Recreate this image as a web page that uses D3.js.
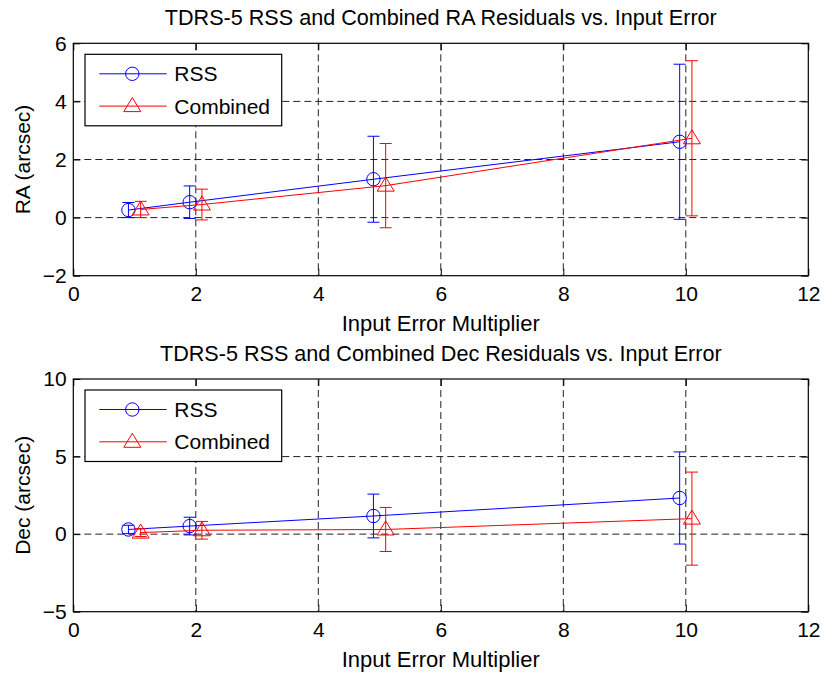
<!DOCTYPE html>
<html>
<head>
<meta charset="utf-8">
<script src="https://cdn.jsdelivr.net/npm/d3@7"></script>
<style>
  html, body { margin: 0; padding: 0; background: #fff; }
  svg text { font-family: "Liberation Sans", Arial, sans-serif; fill: #000; }
</style>
</head>
<body>
<svg id="chart" width="822" height="673"></svg>
<script>
// Input error multipliers (series are offset slightly so the error bars don't overlap)
const rssX = [0.9, 1.9, 4.9, 9.9];
const combinedX = [1.1, 2.1, 5.1, 10.1];

// Right ascension residuals (arcsec) with 1-sigma spreads
const raRss = [0.26, 0.53, 1.32, 2.61];
const raRssErr = [0.26, 0.56, 1.48, 2.67];
const raCombined = [0.28, 0.45, 1.10, 2.73];
const raCombinedErr = [0.28, 0.53, 1.45, 2.67];

// Declination residuals (arcsec) with 1-sigma spreads
const decRss = [0.30, 0.52, 1.17, 2.33];
const decRssErr = [0.27, 0.57, 1.41, 2.97];
const decCombined = [0.10, 0.25, 0.30, 1.00];
const decCombinedErr = [0.25, 0.57, 1.42, 3.00];

const seriesNames = ["RSS", "Combined"];
const seriesColors = ["#0000ff", "#ff0000"];
const seriesMarkers = ["circle", "triangle"];

const xDomain = [0, 12];
const xTicks = [0, 2, 4, 6, 8, 10, 12];
const raDomain = [-2, 6];
const raTicks = [-2, 0, 2, 4, 6];
const decDomain = [-5, 10];
const decTicks = [-5, 0, 5, 10];

const titles = [
  "TDRS-5 RSS and Combined RA Residuals vs. Input Error",
  "TDRS-5 RSS and Combined Dec Residuals vs. Input Error"
];
const yLabels = ["RA (arcsec)", "Dec (arcsec)"];
const xLabel = "Input Error Multiplier";

const svg = d3.select("#chart");
const FS = 21;
const left = 73.3, right = 808.3;
const tickLen = 7;

function markerPath(kind) {
  if (kind === "circle") {
    const p = d3.path();
    p.arc(0, 0, 6.7, 0, 2 * Math.PI);
    p.closePath();
    return p.toString();
  }
  return "M0,-8.5L8.5,5.5L-8.5,5.5Z";
}

function drawPanel(cfg) {
  const x = d3.scaleLinear().domain(xDomain).range([left, right]);
  const y = d3.scaleLinear().domain(cfg.yDomain).range([cfg.bottom, cfg.top]);
  const g = svg.append("g");

  // dashed grid
  const grid = g.append("g").attr("stroke", "#222").attr("stroke-width", 1).attr("stroke-dasharray", "7,4");
  grid.selectAll("line.vx").data(xTicks.filter(t => t > xDomain[0] && t < xDomain[1])).join("line")
    .attr("x1", d => x(d)).attr("x2", d => x(d)).attr("y1", cfg.top).attr("y2", cfg.bottom);
  grid.selectAll("line.hy").data(cfg.yTicks.filter(t => t > cfg.yDomain[0] && t < cfg.yDomain[1])).join("line")
    .attr("x1", left).attr("x2", right).attr("y1", d => y(d)).attr("y2", d => y(d));

  // axes with inward ticks on all four sides
  const axB = d3.axisBottom(x).tickValues(xTicks).tickSize(-tickLen).tickPadding(10.5).tickFormat(d3.format("d"));
  const axT = d3.axisTop(x).tickValues(xTicks).tickSize(-tickLen).tickFormat("");
  const axL = d3.axisLeft(y).tickValues(cfg.yTicks).tickSize(-tickLen).tickPadding(6.6).tickFormat(d3.format("d"));
  const axR = d3.axisRight(y).tickValues(cfg.yTicks).tickSize(-tickLen).tickFormat("");
  const axes = [
    [axB, `translate(0,${cfg.bottom})`],
    [axT, `translate(0,${cfg.top})`],
    [axL, `translate(${left},0)`],
    [axR, `translate(${right},0)`]
  ];
  axes.forEach(([ax, tr]) => {
    const a = g.append("g").attr("transform", tr).call(ax);
    a.select(".domain").remove();
    a.selectAll(".tick line").attr("stroke", "#000").attr("stroke-width", 1);
    a.selectAll(".tick text").attr("font-size", FS).attr("font-family", "Liberation Sans, Arial, sans-serif");
  });

  // series: error bars, connecting line, markers
  cfg.series.forEach((s, i) => {
    const color = seriesColors[i];
    const pts = s.x.map((xv, k) => ({ x: xv, y: s.y[k], e: s.err[k] }));
    const sg = g.append("g").attr("stroke", color).attr("fill", "none").attr("stroke-width", 1);
    const cap = 6;
    pts.forEach(p => {
      const cx = x(p.x), yl = y(p.y - p.e), yh = y(p.y + p.e);
      sg.append("line").attr("x1", cx).attr("x2", cx).attr("y1", yl).attr("y2", yh);
      sg.append("line").attr("x1", cx - cap).attr("x2", cx + cap).attr("y1", yl).attr("y2", yl);
      sg.append("line").attr("x1", cx - cap).attr("x2", cx + cap).attr("y1", yh).attr("y2", yh);
    });
    sg.append("path").attr("d", d3.line().x(d => x(d.x)).y(d => y(d.y))(pts));
    sg.selectAll("path.m").data(pts).join("path")
      .attr("d", markerPath(seriesMarkers[i]))
      .attr("transform", d => `translate(${x(d.x)},${y(d.y)})`);
  });

  // box
  g.append("rect").attr("x", left).attr("y", cfg.top).attr("width", right - left).attr("height", cfg.bottom - cfg.top)
    .attr("fill", "none").attr("stroke", "#000").attr("stroke-width", 1.2);

  // title and labels
  g.append("text").attr("x", (left + right) / 2).attr("y", cfg.top - 18.5).attr("text-anchor", "middle")
    .attr("font-size", 21.6).text(cfg.title);
  g.append("text").attr("x", (left + right) / 2).attr("y", cfg.bottom + 55).attr("text-anchor", "middle")
    .attr("font-size", 22).text(xLabel);
  g.append("text").attr("transform", `translate(30,${(cfg.top + cfg.bottom) / 2}) rotate(-90)`)
    .attr("text-anchor", "middle").attr("font-size", FS).text(cfg.yLabel);

  // legend
  const lx = left + 11.7, ly = cfg.top + 11;
  const lg = g.append("g").attr("transform", `translate(${lx},${ly})`);
  lg.append("rect").attr("width", 196.7).attr("height", 71.5).attr("fill", "#fff").attr("stroke", "#000").attr("stroke-width", 1.2);
  seriesNames.forEach((name, i) => {
    const ry = 19.5 + i * 32.3;
    const row = lg.append("g").attr("transform", `translate(0,${ry})`);
    row.append("line").attr("x1", 14.3).attr("x2", 81.7).attr("y1", 0).attr("y2", 0)
      .attr("stroke", seriesColors[i]).attr("stroke-width", 1);
    row.append("path").attr("d", markerPath(seriesMarkers[i])).attr("transform", "translate(47.3,0)")
      .attr("fill", "none").attr("stroke", seriesColors[i]).attr("stroke-width", 1);
    row.append("text").attr("x", 89.3).attr("y", 0).attr("dy", "0.36em").attr("font-size", FS).text(name);
  });
}

drawPanel({
  top: 43.3, bottom: 275.7, yDomain: raDomain, yTicks: raTicks,
  title: titles[0], yLabel: yLabels[0],
  series: [
    { x: rssX, y: raRss, err: raRssErr },
    { x: combinedX, y: raCombined, err: raCombinedErr }
  ]
});
drawPanel({
  top: 379, bottom: 611.7, yDomain: decDomain, yTicks: decTicks,
  title: titles[1], yLabel: yLabels[1],
  series: [
    { x: rssX, y: decRss, err: decRssErr },
    { x: combinedX, y: decCombined, err: decCombinedErr }
  ]
});
</script>
</body>
</html>
